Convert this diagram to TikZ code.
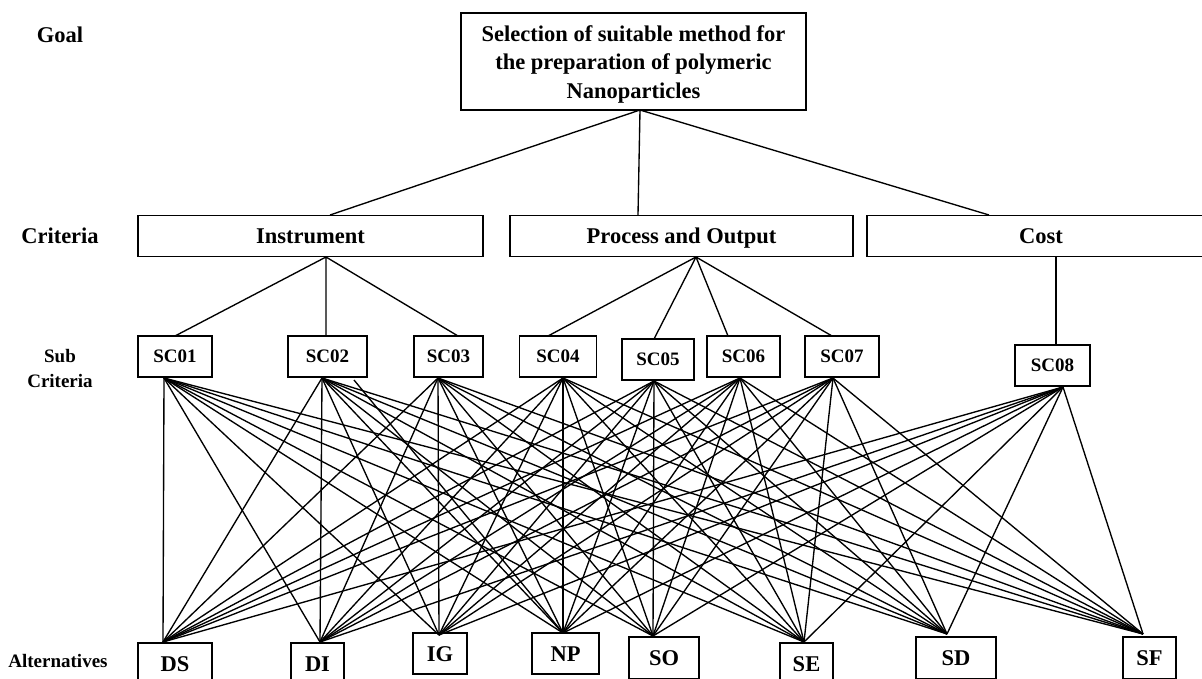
\documentclass[tikz,border=0pt]{standalone}
\usepackage{fontspec}
\setmainfont{Liberation Serif}
\begin{document}
\begin{tikzpicture}[x=1pt,y=-1pt,
  bigfont/.style={font=\fontsize{22.5}{28.5}\selectfont\bfseries},
  smallfont/.style={font=\fontsize{19}{25}\selectfont\bfseries},
  box/.style={draw,line width=1.8pt,inner sep=0pt,align=center},
  critbox/.style={box,bigfont,minimum height=41pt,text height=15pt,text depth=0pt},
  subbox/.style={box,smallfont,minimum height=41pt,text height=12.5pt,text depth=0pt},
  altbox/.style={box,bigfont,minimum height=42pt,text height=15pt,text depth=0pt},
  lab/.style={inner sep=0pt,align=center},
  conn/.style={line width=1.35pt}]
\useasboundingbox (0,0) rectangle (1202,679);
% left labels
\node[lab,bigfont,text height=15pt,text depth=0pt] (lgoal) at (60,35) {Goal};
\node[lab,bigfont,text height=15pt,text depth=0pt] (lcrit) at (60,236) {Criteria};
\node[lab,smallfont,anchor=base] (lsub) at (60,362) {Sub};
\node[lab,smallfont,anchor=base] (lsub2) at (60,387) {Criteria};
\node[lab,smallfont,text height=12.5pt,text depth=0pt] (lalt) at (58,661) {Alternatives};
% goal
\node[box,minimum width=345pt,minimum height=97pt] (goal) at (633.5,61.5) {};
\node[lab,bigfont,anchor=base] (g1) at (633.5,42) {Selection of suitable method for};
\node[lab,bigfont,anchor=base] (g2) at (633.5,70) {the preparation of polymeric};
\node[lab,bigfont,anchor=base] (g3) at (633.5,99) {Nanoparticles};
% criteria
\node[critbox,minimum width=345pt] (c1) at (310.5,236) {Instrument};
\node[critbox,minimum width=343pt] (c2) at (681.5,236) {Process and Output};
\node[critbox,minimum width=348pt] (c3) at (1041,236) {Cost};
% sub criteria
\node[subbox,minimum width=74pt] (sc1) at (175,356.5) {SC01};
\node[subbox,minimum width=79pt] (sc2) at (327.5,356.5) {SC02};
\node[subbox,minimum width=69pt] (sc3) at (448.5,356.5) {SC03};
\node[subbox,minimum width=77pt] (sc4) at (558,356.5) {SC04};
\node[subbox,minimum width=72pt] (sc5) at (658,359.5) {SC05};
\node[subbox,minimum width=73pt] (sc6) at (743.5,356.5) {SC06};
\node[subbox,minimum width=74pt] (sc7) at (842,356.5) {SC07};
\node[subbox,minimum width=75pt] (sc8) at (1052.5,365.5) {SC08};
% alternatives
\node[altbox,minimum width=74pt] (ds) at (175,664) {DS};
\node[altbox,minimum width=53pt] (di) at (317.5,664) {DI};
\node[altbox,minimum width=54pt,minimum height=41pt] (ig) at (440,653.5) {IG};
\node[altbox,minimum width=67pt,minimum height=41pt] (np) at (565.5,653.5) {NP};
\node[altbox,minimum width=70pt] (so) at (664,658) {SO};
\node[altbox,minimum width=53pt] (se) at (806.5,664) {SE};
\node[altbox,minimum width=80pt] (sd) at (956,658) {SD};
\node[altbox,minimum width=53pt] (sf) at (1149.5,658) {SF};
% connection points
\coordinate (gb) at (640,110);
\coordinate (c1t) at (330,215);
\coordinate (c2t) at (638,215);
\coordinate (c3t) at (989,215);
\coordinate (c1b) at (326,257);
\coordinate (c2b) at (696,257);
\coordinate (c3b) at (1056,257);
\coordinate (t1) at (175,336);
\coordinate (t2) at (326,336);
\coordinate (t3) at (458,336);
\coordinate (t4) at (548,336);
\coordinate (t5) at (654,339);
\coordinate (t6) at (728,336);
\coordinate (t7) at (832,336);
\coordinate (t8) at (1056,345);
\coordinate (s1) at (164,378);
\coordinate (s2) at (322,378);
\coordinate (s3) at (438,378);
\coordinate (s4) at (563,378);
\coordinate (s5) at (654,381);
\coordinate (s6) at (740,378);
\coordinate (s7) at (833,378);
\coordinate (s8) at (1063,387);
\coordinate (a1) at (163,642);
\coordinate (a2) at (320,642);
\coordinate (a3) at (439,635);
\coordinate (a4) at (563,633);
\coordinate (a5) at (653,636);
\coordinate (a6) at (804,642);
\coordinate (a7) at (947,634);
\coordinate (a8) at (1143,634);
\coordinate (stray) at (354,380);
% goal to criteria
\draw[conn] (gb) -- (c1t) (gb) -- (c2t) (gb) -- (c3t);
% criteria to sub criteria
\draw[conn] (c1b) -- (t1) (c1b) -- (t2) (c1b) -- (t3);
\draw[conn] (c2b) -- (t4) (c2b) -- (t5) (c2b) -- (t6) (c2b) -- (t7);
\draw[conn] (c3b) -- (t8);
% sub criteria to alternatives
\foreach \s in {1,...,8}{
  \foreach \a in {1,...,8}{
    \draw[conn] (s\s) -- (a\a);
  }
}
\draw[conn] (stray) -- (a4);
\end{tikzpicture}
\end{document}
